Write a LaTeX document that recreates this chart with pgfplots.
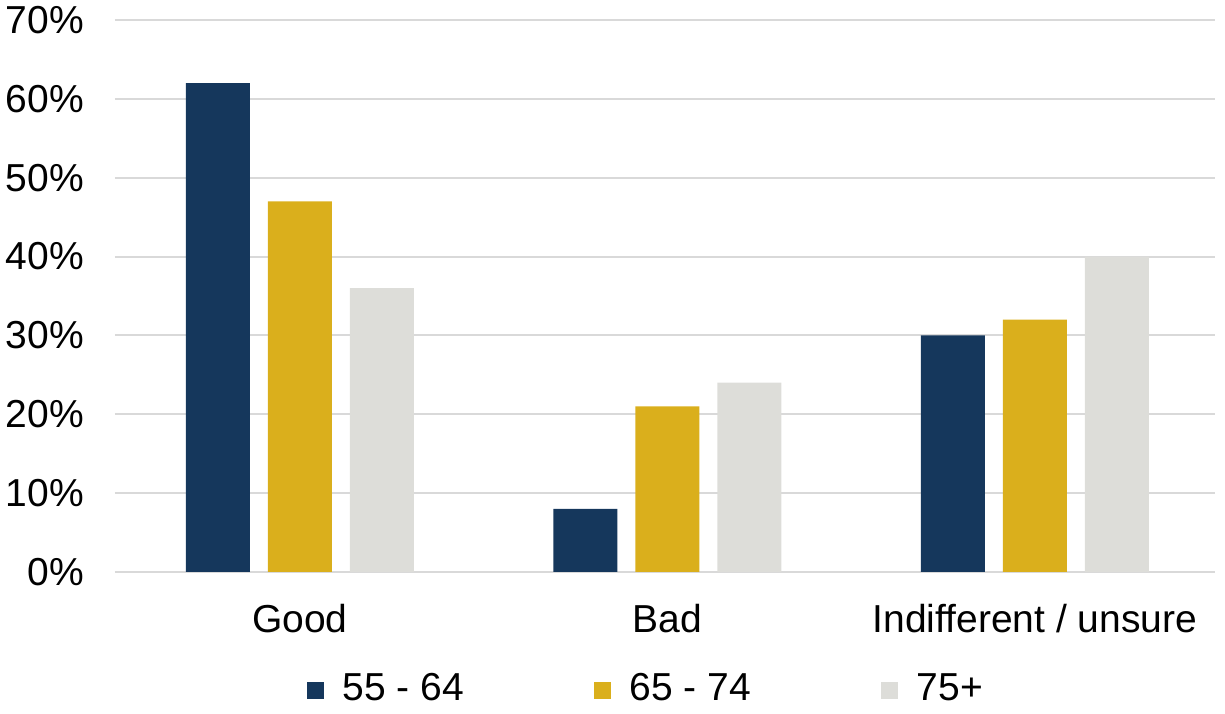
\documentclass[border=0pt]{standalone}
\usepackage{pgfplots}
\pgfplotsset{compat=1.18}
\usepackage{fontspec}
\setmainfont{Liberation Sans}

\definecolor{navy}{HTML}{15375C}
\definecolor{gold}{HTML}{DAAF1C}
\definecolor{lgray}{HTML}{DDDDD9}
\definecolor{gridc}{HTML}{D9D9D9}

\begin{document}
\fontsize{15.6pt}{18pt}\selectfont
\begin{tikzpicture}
\begin{axis}[
    scale only axis,
    width=440pt,
    height=220.8pt,
    ybar=7.2pt,
    bar width=25.6pt,
    ymin=0, ymax=70,
    xmin=-0.503, xmax=2.49,
    ytick={0,10,...,70},
    yticklabel={\pgfmathprintnumber{\tick}\%},
    xtick=data,
    xticklabels={Good, Bad, Indifferent / unsure},
    /pgf/number format/assume math mode=true,
    axis line style={draw=none},
    major tick length=0pt,
    ymajorgrids,
    grid style={gridc, line width=0.8pt},
    yticklabel style={xshift=-7pt},
    xticklabel style={yshift=-7.5pt},
    tick label style={font=\fontsize{15.6pt}{18pt}\selectfont},
    legend style={draw=none, at={(0.484,-0.214)}, anchor=center,
        font=\fontsize{15.6pt}{18pt}\selectfont, legend columns=3,
        /tikz/every odd column/.append style={column sep=5.5pt},
        /tikz/every even column/.append style={column sep=50pt}},
    legend image code/.code={\fill[#1] (0pt,-3.4pt) rectangle (6.8pt,3.4pt);},
]
\addplot[fill=navy, draw=none] coordinates {(0,62) (1,8) (2,30)};
\addplot[fill=gold, draw=none] coordinates {(0,47) (1,21) (2,32)};
\addplot[fill=lgray, draw=none] coordinates {(0,36) (1,24) (2,40)};
\legend{55 - 64, 65 - 74, 75+}
\end{axis}
\pgfresetboundingbox
\path (current axis.south west) ++(-46pt,-56.8pt) rectangle ([shift={(4pt,8pt)}]current axis.north east);
\end{tikzpicture}
\end{document}
